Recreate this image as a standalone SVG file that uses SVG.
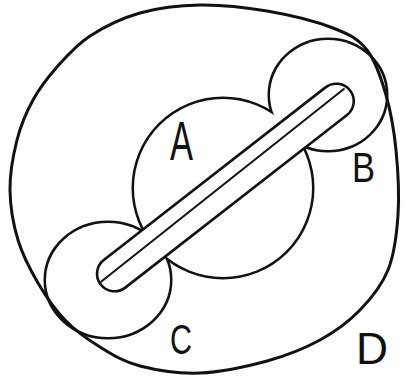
<svg xmlns="http://www.w3.org/2000/svg" width="405" height="379" viewBox="0 0 405 379">
  <style>
    .ink { fill: none; stroke: #111; stroke-linecap: round; stroke-linejoin: round; }
    .blobStroke { fill: none; stroke: #111; stroke-width: 5; }
    .blobFill { fill: #fff; stroke: none; }
    .lbl { font-family: "Liberation Sans", Arial, sans-serif; fill: #111; }
  </style>
  <rect width="405" height="379" fill="#fff"/>

  <!-- union outline of the three inner regions: wide strokes, then white fills -->
  <g id="regions-outline">
    <circle class="blobStroke" cx="223" cy="188" r="89"/>
    <ellipse class="blobStroke" cx="328" cy="95" rx="58" ry="55"/>
    <ellipse class="blobStroke" cx="108" cy="280" rx="62" ry="57"/>
  </g>
  <g id="node-A">
    <circle class="blobFill" cx="223" cy="188" r="89"/>
  </g>
  <g id="node-B">
    <ellipse class="blobFill" cx="328" cy="95" rx="58" ry="55"/>
  </g>
  <g id="node-C">
    <ellipse class="blobFill" cx="108" cy="280" rx="62" ry="57"/>
  </g>

  <g id="node-D">
    <path class="ink" stroke-width="3" d="M200,5 C221.2,4.7 244.8,7.2 267,11 C289.2,14.8 316.3,21.5 333,28 C349.7,34.5 358.2,38.8 367,50 C375.8,61.2 381.2,78.3 386,95 C390.8,111.7 394,130 396,150 C398,170 399.3,195 398,215 C396.7,235 394.3,254.2 388,270 C381.7,285.8 371.3,298.3 360,310 C348.7,321.7 335.5,331.5 320,340 C304.5,348.5 287,355.5 267,361 C247,366.5 221.2,372.2 200,373 C178.8,373.8 156.7,370.3 140,366 C123.3,361.7 112.5,354.7 100,347 C87.5,339.3 75.3,330.7 65,320 C54.7,309.3 45.8,296.3 38,283 C30.2,269.7 22.7,255.5 18,240 C13.3,224.5 10.2,206.7 10,190 C9.8,173.3 13.2,155 17,140 C20.8,125 26.3,112.2 33,100 C39.7,87.8 47.5,77.7 57,67 C66.5,56.3 76.2,45 90,36 C103.8,27 121.7,18.2 140,13 C158.3,7.8 178.8,5.3 200,5 Z"/>
  </g>

  <g id="rod" transform="translate(225.4,187.5) rotate(-37.9)">
    <rect x="-158" y="-17.5" width="316" height="35" rx="17.5" fill="#fff" stroke="#111" stroke-width="2.6"/>
    <line class="ink" x1="-156" y1="-2" x2="154" y2="-5" stroke-width="2"/>
  </g>

  <g id="labels">
    <text class="lbl" x="170" y="160" font-size="56" textLength="23" lengthAdjust="spacingAndGlyphs">A</text>
    <text class="lbl" x="352" y="182" font-size="42" textLength="23" lengthAdjust="spacingAndGlyphs">B</text>
    <text class="lbl" x="170" y="354" font-size="42" textLength="22" lengthAdjust="spacingAndGlyphs">C</text>
    <text class="lbl" x="356" y="364" font-size="45" textLength="32" lengthAdjust="spacingAndGlyphs">D</text>
  </g>
</svg>
